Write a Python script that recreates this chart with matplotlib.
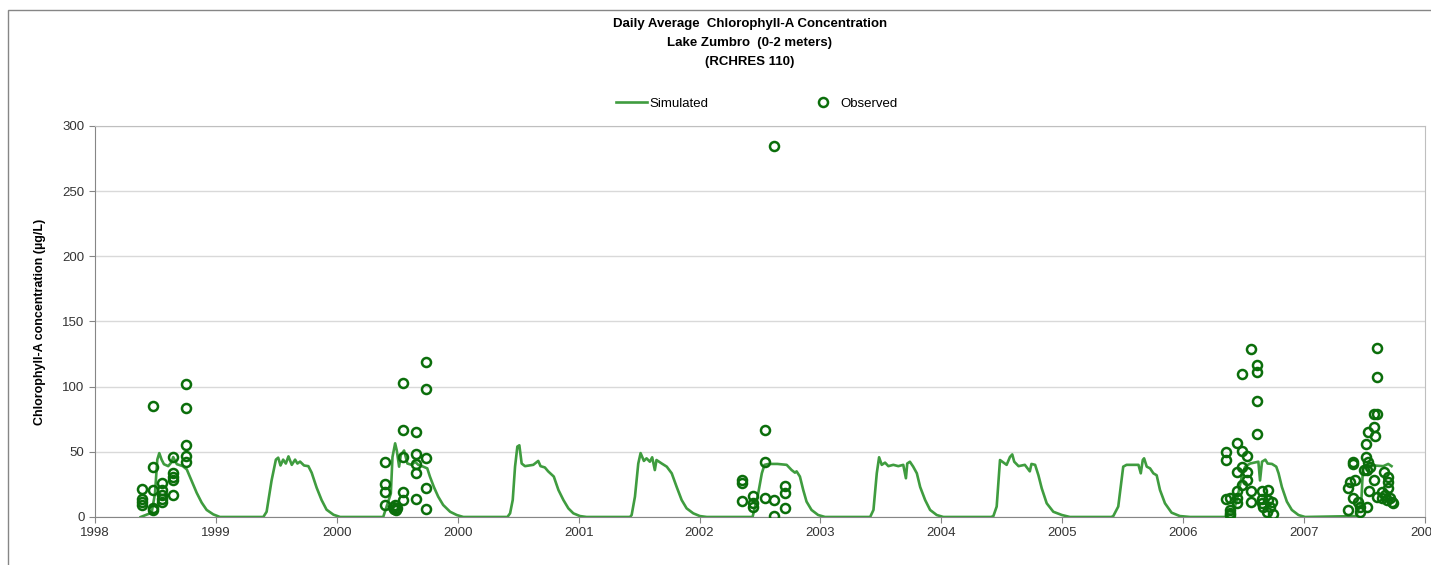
import numpy as np
import pandas as pd
import matplotlib
matplotlib.use("Agg")
import matplotlib.pyplot as plt
import matplotlib.dates as mdates
from matplotlib.patches import Rectangle

plt.rcParams['font.family'] = ['Liberation Sans', 'DejaVu Sans']

# simulated daily chlorophyll-a (vertices)
sim_dates = [
    '1998-05-19', '1998-06-21', '1998-07-01', '1998-07-08', '1998-07-14', '1998-07-21', '1998-07-28',
    '1998-08-10', '1998-08-20', '1998-08-25', '1998-09-05', '1998-09-23', '1998-10-05', '1998-10-20',
    '1998-11-04', '1998-11-19', '1998-12-04', '1998-12-24', '1999-01-13',
    '1999-05-24', '1999-06-03', '1999-06-18', '1999-07-01', '1999-07-08', '1999-07-15', '1999-07-23',
    '1999-07-31', '1999-08-08', '1999-08-18', '1999-08-28', '1999-09-04', '1999-09-12', '1999-09-24',
    '1999-10-07', '1999-10-17', '1999-11-01', '1999-11-16', '1999-12-01', '1999-12-22', '2000-01-11',
    '2000-05-20', '2000-06-12', '2000-06-17', '2000-06-25', '2000-06-30', '2000-07-07', '2000-07-12',
    '2000-07-22', '2000-08-01', '2000-08-14', '2000-08-24', '2000-09-03', '2000-09-18', '2000-09-30',
    '2000-10-08', '2000-10-20', '2000-11-02', '2000-11-17', '2000-12-08', '2000-12-28', '2001-01-17',
    '2001-05-30', '2001-06-07', '2001-06-15', '2001-06-22', '2001-06-29', '2001-07-05', '2001-07-12',
    '2001-07-22', '2001-08-16', '2001-08-31', '2001-09-07', '2001-09-20', '2001-09-30', '2001-10-17',
    '2001-10-31', '2001-11-15', '2001-11-30', '2001-12-15', '2002-01-04', '2002-01-24',
    '2002-06-04', '2002-06-09', '2002-06-19', '2002-06-29', '2002-07-06', '2002-07-16', '2002-07-24',
    '2002-08-03', '2002-08-10', '2002-08-18', '2002-08-23', '2002-09-08', '2002-09-23', '2002-10-08',
    '2002-10-23', '2002-11-07', '2002-11-22', '2002-12-12', '2003-01-01', '2003-01-22',
    '2003-06-09', '2003-06-26', '2003-07-07', '2003-07-15', '2003-07-27', '2003-08-23', '2003-09-20',
    '2003-10-05', '2003-10-15', '2003-10-20', '2003-10-30', '2003-11-09', '2003-11-19', '2003-12-04',
    '2003-12-24', '2004-01-14',
    '2004-05-29', '2004-06-08', '2004-06-18', '2004-06-25', '2004-07-03', '2004-07-13', '2004-07-23',
    '2004-08-07', '2004-08-22', '2004-09-06', '2004-09-14', '2004-09-18', '2004-09-26', '2004-10-06',
    '2004-10-17', '2004-10-27', '2004-11-11', '2004-11-26', '2004-12-16', '2005-01-05',
    '2005-05-29', '2005-06-05', '2005-06-15', '2005-06-25', '2005-07-15', '2005-07-25', '2005-08-01',
    '2005-08-07', '2005-08-20', '2005-09-08', '2005-09-23', '2005-09-28', '2005-10-09', '2005-10-19',
    '2005-10-29', '2005-11-13', '2005-12-03', '2005-12-29', '2006-01-22',
    '2006-05-27', '2006-06-02', '2006-06-17', '2006-07-02', '2006-07-12', '2006-08-17', '2006-08-24',
    '2006-08-30', '2006-09-03', '2006-09-11', '2006-09-21', '2006-10-01', '2006-10-11', '2006-10-21',
    '2006-11-05', '2006-11-25', '2006-12-20', '2007-01-20',
    '2007-05-04', '2007-05-10', '2007-05-30', '2007-06-10', '2007-06-25', '2007-07-05', '2007-07-20',
    '2007-08-14', '2007-08-19', '2007-08-25', '2007-09-04', '2007-09-11', '2007-09-24', '2007-10-07',
    '2007-10-14', '2007-10-24', '2007-11-08', '2007-11-23', '2007-12-13', '2008-01-02',
    '2008-06-05', '2008-06-20', '2008-06-25', '2008-06-30', '2008-08-25', '2008-09-09', '2008-09-19',
]
sim_values = [
    0, 3.3, 18, 44, 49, 44, 40.5, 39, 42, 46, 40.5, 39, 36.5, 27.5, 18.5, 11, 5.4, 2, 0,
    0, 4, 28, 44, 45.5, 39.5, 44, 41, 46.5, 40, 44, 41, 42.5, 39.5, 39, 34, 22.5, 13, 5.6, 1.7, 0,
    0, 18, 46, 56.5, 51, 38.6, 47.5, 51, 41, 40, 42.4, 40, 38.6, 37.3, 31, 23, 15.6, 9.2, 4, 1.5, 0,
    0, 2.8, 13, 38.6, 54, 55, 41, 39, 40, 43, 39, 38, 35, 31, 20.7, 13, 6.6, 2.8, 0.7, 0,
    0, 1.5, 15.6, 41, 49, 43, 45, 42.4, 45.8, 36, 43.7, 41, 38.6, 33.5, 23, 13, 6.6, 2.8, 0.7, 0,
    0, 18, 33.5, 40, 40.7, 40.7, 40, 36, 34, 35, 31, 20.7, 11.8, 5.4, 1.5, 0,
    0, 5.4, 33.5, 45.8, 40, 41.7, 39, 40, 39, 40, 29.7, 41, 42.4, 38.6, 33.5, 23, 13, 5.4, 1.5, 0,
    0, 0.7, 8, 43.7, 40, 46, 48, 42.4, 39, 40, 35, 40.7, 40, 32, 22, 10.5, 4, 1.5, 0,
    0, 0.7, 8, 38.6, 40, 40, 33.5, 43.7, 45, 38.6, 37.3, 33.5, 32, 20.7, 10.5, 3.3, 0.7, 0,
    0, 0.7, 4, 13, 31, 38.6, 41, 42.4, 28, 42.4, 44, 41, 40.7, 38.6, 33.5, 23, 11.8, 5.4, 1.5, 0,
    0.7, 13, 38.6, 40, 39, 40.7, 39,
]

# observed samples, grouped by sampling date
obs_dates = [
    '1998-05-22', '1998-06-24', '1998-07-22', '1998-08-25', '1998-10-02',
    '2000-05-25', '2000-06-20', '2000-06-23', '2000-06-25', '2000-06-27', '2000-06-30',
    '2000-07-18', '2000-08-26', '2000-09-26',
    '2003-05-07', '2003-06-11', '2003-07-17', '2003-08-13', '2003-09-15',
    '2007-05-07', '2007-05-20', '2007-06-10', '2007-06-26', '2007-07-10', '2007-07-23',
    '2007-08-09', '2007-08-24', '2007-08-29', '2007-09-08', '2007-09-13', '2007-09-18',
    '2007-09-23', '2007-09-26',
    '2008-05-11', '2008-05-16', '2008-05-27', '2008-06-01', '2008-06-11', '2008-06-15',
    '2008-06-29', '2008-07-03', '2008-07-07', '2008-07-11', '2008-07-13', '2008-07-16',
    '2008-07-29', '2008-07-31', '2008-08-05', '2008-08-07', '2008-08-20', '2008-08-27',
    '2008-08-30', '2008-09-04', '2008-09-09', '2008-09-15', '2008-09-20', '2008-09-24',
]
obs_values = [
    [21.5, 13.6, 11.8, 9.2], [85.4, 38, 20.7, 7.2, 5.4], [26, 20.7, 17, 13.6, 11.8],
    [46, 33.5, 31, 28, 17], [102, 84, 55, 47, 42],
    [42.4, 25, 19.4, 9.2], [8], [6], [9], [5.5], [7],
    [103, 66.8, 46, 19.4, 13], [65, 48, 41, 33.5, 13.8], [119, 98, 45, 22.5, 5.9],
    [28.4, 25.8, 12.5], [16, 10.5, 8], [66.8, 42.4, 14.3], [285, 13, 0.8], [23.8, 18.6, 6.6],
    [49.6, 43.7, 13.6], [14.3, 5.4, 3, 1.5], [57, 34.3, 20.2, 14.3, 10.5], [109.7, 50.6, 38.6, 24.5],
    [47, 34.3, 28.4], [128.9, 20.2, 11.8],
    [116.6, 111, 89.2, 63.7], [20, 13.8, 10.5], [8], [4], [20.7, 13], [8],
    [11.8], [2],
    [22, 5.4], [27], [42.4, 40.7, 14.8], [28.4], [11.8], [8, 4],
    [36], [55.8, 46.3], [36, 8], [65.5, 42.4], [20], [38.6],
    [78.8, 69.3, 28.4], [62], [15.6], [129.4, 107.6, 78.8], [19.4, 14.3], [34.8],
    [17], [13], [31, 27, 22], [14.3], [11.8], [10.5],
]

y_ticks = [0, 50, 100, 150, 200, 250, 300]

sim_x = pd.to_datetime(sim_dates)
obs_x = pd.to_datetime([d for d, v in zip(obs_dates, obs_values) for _ in v])
obs_y = [y for v in obs_values for y in v]

fig = plt.figure(figsize=(14.31, 5.65), dpi=100)
ax = fig.add_axes([0.0664, 0.085, 0.9294, 0.692])

ax.plot(sim_x, sim_values, color='#3f9c3f', lw=1.9, label='Simulated', zorder=3)
ax.plot(obs_x, obs_y, ls='none', marker='o', ms=6.5, mfc='none', mec='#0b6e0b',
        mew=1.8, label='Observed', zorder=4)

start = pd.Timestamp('1998-01-01')
ticks = [start + pd.Timedelta(days=365 * k) for k in range(12)]
ax.set_xticks(ticks)
ax.xaxis.set_major_formatter(mdates.DateFormatter('%Y'))
ax.set_xlim(ticks[0], ticks[-1])
ax.set_ylim(0, 300)
ax.set_yticks(y_ticks)

ax.grid(axis='y', color='#d9d9d9', lw=1)
ax.set_axisbelow(True)
for s in ['left', 'bottom']:
    ax.spines[s].set_color('#868686')
for s in ['top', 'right']:
    ax.spines[s].set_color('#bfbfbf')
ax.tick_params(axis='both', direction='out', length=4, color='#868686',
               labelsize=9.5, labelcolor='#333333')

ax.set_ylabel('Chlorophyll-A concentration (µg/L)', fontsize=9, fontweight='bold', labelpad=12)

fig.text(0.524, 0.968, 'Daily Average  Chlorophyll-A Concentration\nLake Zumbro  (0-2 meters)\n(RCHRES 110)',
         ha='center', va='top', fontsize=9.5, fontweight='bold', linespacing=1.75)

fig.legend(loc='center', bbox_to_anchor=(0.529, 0.816), ncol=2, frameon=False,
           fontsize=9.5, columnspacing=7.5, handlelength=2.3, handletextpad=0.2)

fig.add_artist(Rectangle((8 / 1431, -0.1), 1.2, 0.1 + 1 - 10 / 565, transform=fig.transFigure,
                         fill=False, edgecolor='#868686', lw=1))

fig.savefig('out.png', dpi=100)
